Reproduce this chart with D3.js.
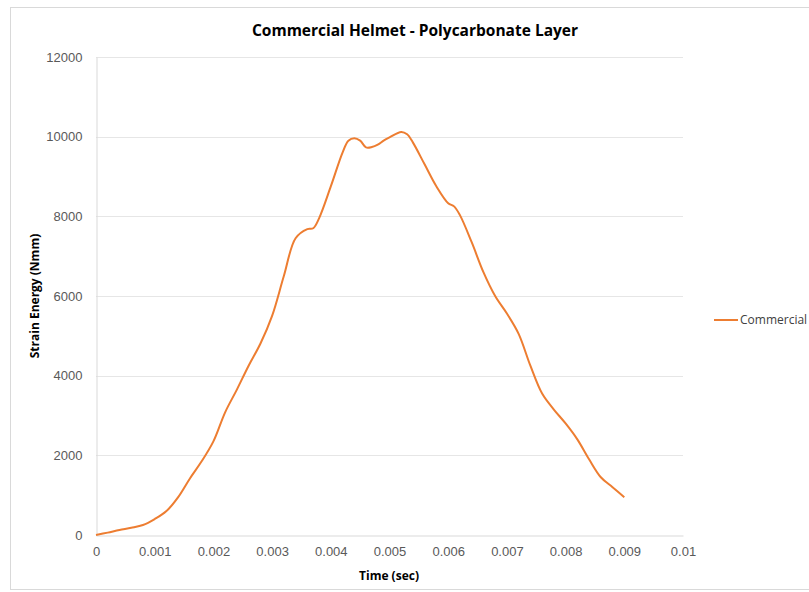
<!DOCTYPE html>
<html>
<head>
<meta charset="utf-8">
<script src="https://cdn.jsdelivr.net/npm/d3@7"></script>
<style>
  body { margin: 0; background: #fff; }
  svg { display: block; font-family: "Open Sans", "Liberation Sans", sans-serif; }
</style>
</head>
<body>
<div id="chart"></div>
<script>
// time (sec) and strain energy (Nmm)
const times = [0, 0.0002, 0.0004, 0.0006, 0.0008, 0.001, 0.0012, 0.0014, 0.0016, 0.0018,
    0.002, 0.0022, 0.0024, 0.0026, 0.0028, 0.003, 0.0032, 0.0034, 0.0036, 0.0037,
    0.0038, 0.004, 0.0042, 0.0043, 0.0044, 0.0045, 0.0046, 0.0047, 0.0048, 0.0049,
    0.005, 0.0052, 0.0053, 0.0054, 0.0056, 0.0058, 0.006, 0.0061, 0.0062, 0.0064,
    0.0066, 0.0068, 0.007, 0.0072, 0.0074, 0.0076, 0.0078, 0.008, 0.0082, 0.0084,
    0.0086, 0.0088, 0.009];
const commercial = [0, 60, 125, 180, 250, 400, 600, 950, 1420, 1850,
    2350, 3080, 3650, 4250, 4800, 5500, 6500, 7450, 7680, 7700,
    7950, 8750, 9600, 9900, 9960, 9900, 9730, 9740, 9800, 9900,
    9980, 10120, 10060, 9850, 9300, 8750, 8330, 8250, 8030, 7350,
    6600, 6000, 5560, 5050, 4250, 3550, 3150, 2800, 2400, 1900,
    1450, 1200, 950];
const xTicks = [0, 0.001, 0.002, 0.003, 0.004, 0.005, 0.006, 0.007, 0.008, 0.009, 0.01];
const yTicks = [0, 2000, 4000, 6000, 8000, 10000, 12000];

const W = 809, H = 592;
const m = { left: 96, right: 126, top: 57, bottom: 57 };

const svg = d3.select("#chart").append("svg")
    .attr("width", W)
    .attr("height", H);

// chart frame
svg.append("rect")
    .attr("x", 10.5).attr("y", 7.5)
    .attr("width", W).attr("height", H - 10)
    .attr("fill", "none")
    .attr("stroke", "#d9d9d9");

const x = d3.scaleLinear().domain([0, 0.01]).range([m.left, W - m.right]);
const y = d3.scaleLinear().domain([0, 12000]).range([H - m.bottom, m.top]);

// gridlines
svg.append("g")
    .selectAll("line")
    .data(yTicks.slice(1))
    .join("line")
    .attr("x1", x(0)).attr("x2", x(0.01))
    .attr("y1", d => Math.round(y(d)) + 0.5)
    .attr("y2", d => Math.round(y(d)) + 0.5)
    .attr("stroke", "#e6e6e6");

// axes
const xAxis = svg.append("g")
    .attr("transform", `translate(0,${Math.round(y(0)) + 0.5})`)
    .call(d3.axisBottom(x).tickValues(xTicks).tickSize(0).tickPadding(11)
        .tickFormat(d => d === 0 ? "0" : d3.format("")(+d.toFixed(3))));
xAxis.select(".domain").attr("stroke", "#d9d9d9");

const yAxis = svg.append("g")
    .attr("transform", `translate(${Math.round(x(0)) + 0.5},0)`)
    .call(d3.axisLeft(y).tickValues(yTicks).tickSize(0).tickPadding(14)
        .tickFormat(d3.format("d")));
yAxis.select(".domain").attr("stroke", "#d9d9d9");

svg.selectAll(".tick text")
    .attr("fill", "#595959")
    .style("font-size", "13px");

// the series
const pts = times.map((t, i) => [t, commercial[i]]);
svg.append("path")
    .datum(pts)
    .attr("fill", "none")
    .attr("stroke", "#ED7D31")
    .attr("stroke-width", 2)
    .attr("stroke-linejoin", "round")
    .attr("d", d3.line().x(d => x(d[0])).y(d => y(d[1])).curve(d3.curveCatmullRom.alpha(0.5)));

// titles
svg.append("text")
    .attr("x", 415).attr("y", 36)
    .attr("text-anchor", "middle")
    .attr("fill", "#000")
    .style("font-size", "15.5px").style("font-weight", "bold")
    .text("Commercial Helmet - Polycarbonate Layer");

svg.append("text")
    .attr("x", 389).attr("y", 580)
    .attr("text-anchor", "middle")
    .attr("fill", "#000")
    .style("font-size", "12px").style("font-weight", "bold")
    .text("Time (sec)");

svg.append("text")
    .attr("transform", "translate(39,296) rotate(-90)")
    .attr("text-anchor", "middle")
    .attr("fill", "#000")
    .style("font-size", "12px").style("font-weight", "bold")
    .text("Strain Energy (Nmm)");

// legend
svg.append("line")
    .attr("x1", 714).attr("x2", 738)
    .attr("y1", 320).attr("y2", 320)
    .attr("stroke", "#ED7D31").attr("stroke-width", 2);
svg.append("text")
    .attr("x", 740).attr("y", 324)
    .attr("fill", "#404040")
    .style("font-size", "12px")
    .text("Commercial");
</script>
</body>
</html>
